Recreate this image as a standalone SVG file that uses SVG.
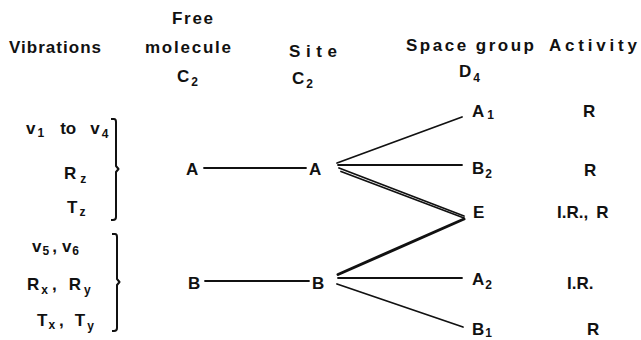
<svg xmlns="http://www.w3.org/2000/svg" width="641" height="340" viewBox="0 0 641 340">
  <style>
    text { font-family: "Liberation Sans", Arial, sans-serif; font-weight: bold; font-size: 17px; fill: #111; }
    .sub { font-size: 12px; }
    .ln { stroke: #111; stroke-width: 1.8; fill: none; stroke-linecap: round; }
    .br { stroke: #111; stroke-width: 2; fill: none; stroke-linejoin: round; }
  </style>
  <rect width="641" height="340" fill="#fff"/>

  <!-- column headings -->
  <g id="headings">
    <text x="9" y="53" textLength="92" lengthAdjust="spacing">Vibrations</text>
    <text x="172" y="24" textLength="41" lengthAdjust="spacing">Free</text>
    <text x="145" y="53" textLength="86" lengthAdjust="spacing">molecule</text>
    <text x="177" y="82">C<tspan class="sub" dx="2" dy="4">2</tspan></text>
    <text x="289" y="57" textLength="48" lengthAdjust="spacing">Site</text>
    <text x="292" y="84">C<tspan class="sub" dx="2" dy="4">2</tspan></text>
    <text x="406" y="51" textLength="128" lengthAdjust="spacing">Space group</text>
    <text x="549" y="51" textLength="88" lengthAdjust="spacing">Activity</text>
    <text x="459" y="77">D<tspan class="sub" dx="2" dy="5">4</tspan></text>
  </g>

  <!-- vibrations of symmetry A -->
  <g id="vib-a">
    <text x="26" y="134">v<tspan class="sub" dx="2" dy="3">1</tspan><tspan dx="16" dy="-3">to</tspan><tspan dx="14">v</tspan><tspan class="sub" dx="2" dy="4">4</tspan></text>
    <text x="64" y="179">R<tspan class="sub" dx="4" dy="4">z</tspan></text>
    <text x="67" y="213">T<tspan class="sub" dx="2" dy="3">z</tspan></text>
    <path class="br" d="M111,119 H114 Q116,119 116,122 V166 L118.5,169 L116,172 V217 Q116,220 113,220 H111"/>
  </g>

  <!-- vibrations of symmetry B -->
  <g id="vib-b">
    <text x="32" y="252">v<tspan class="sub" dx="1" dy="3">5</tspan><tspan dx="3" dy="-3">,</tspan><tspan dx="5">v</tspan><tspan class="sub" dx="1" dy="3">6</tspan></text>
    <text x="27" y="290">R<tspan class="sub" dx="2" dy="4">x</tspan><tspan dx="4" dy="-4">,</tspan><tspan dx="12">R</tspan><tspan class="sub" dx="3" dy="4">y</tspan></text>
    <text x="37" y="326">T<tspan class="sub" dx="1" dy="3">x</tspan><tspan dx="4" dy="-3">,</tspan><tspan dx="11">T</tspan><tspan class="sub" dx="2" dy="4">y</tspan></text>
    <path class="br" d="M112,234 H115 Q117,234 117,237 V279 L119.5,282 L117,285 V328 Q117,331 114,331 H112"/>
  </g>

  <!-- free molecule species -->
  <g id="free-a"><text x="186" y="175">A</text></g>
  <g id="free-b"><text x="188" y="289">B</text></g>

  <!-- site species -->
  <g id="site-a"><text x="309" y="175">A</text></g>
  <g id="site-b"><text x="312" y="289">B</text></g>

  <!-- factor group species -->
  <g id="fg-a1"><text x="472" y="117">A<tspan class="sub" dx="3" dy="2">1</tspan></text></g>
  <g id="fg-b2"><text x="472" y="174">B<tspan class="sub" dx="1" dy="4">2</tspan></text></g>
  <g id="fg-e"><text x="473" y="218">E</text></g>
  <g id="fg-a2"><text x="472" y="285">A<tspan class="sub" dx="1" dy="4">2</tspan></text></g>
  <g id="fg-b1"><text x="472" y="335">B<tspan class="sub" dx="1" dy="2">1</tspan></text></g>

  <!-- activity -->
  <g id="activity">
    <text x="583" y="117">R</text>
    <text x="584" y="176">R</text>
    <text x="557" y="218">I.R.,<tspan dx="8">R</tspan></text>
    <text x="567" y="289">I.R.</text>
    <text x="587" y="335">R</text>
  </g>

  <!-- correlation lines -->
  <g id="connectors">
    <line class="ln" x1="204" y1="168" x2="306" y2="168"/>
    <line class="ln" x1="205" y1="281" x2="309" y2="281"/>
    <line class="ln" x1="337" y1="163" x2="462" y2="117"/>
    <line class="ln" x1="338" y1="165" x2="462" y2="165"/>
    <line class="ln" x1="339" y1="168" x2="464" y2="216"/>
    <line class="ln" x1="341" y1="171.5" x2="464" y2="218"/>
    <line class="ln" x1="338" y1="274.5" x2="464" y2="219" style="stroke-width:3"/>
    <line class="ln" x1="338" y1="278" x2="462" y2="278"/>
    <line class="ln" x1="337" y1="284" x2="463" y2="327"/>
  </g>
</svg>
